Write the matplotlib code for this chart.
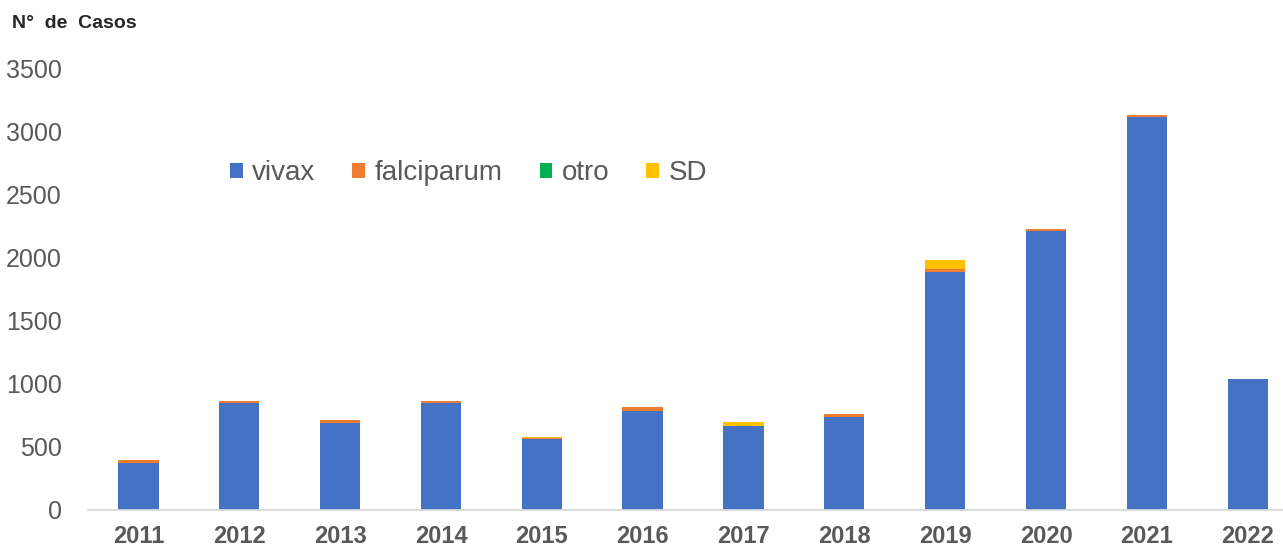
import matplotlib
matplotlib.use("Agg")
import matplotlib.pyplot as plt
import numpy as np
from matplotlib.patches import Patch

plt.rcParams['font.family'] = ['Liberation Sans', 'DejaVu Sans']

years = ['2011', '2012', '2013', '2014', '2015', '2016', '2017', '2018', '2019', '2020', '2021', '2022']
vivax = [372, 845, 688, 845, 560, 783, 659, 736, 1880, 2207, 3112, 1034]
falciparum = [20, 18, 20, 18, 3, 33, 3, 20, 27, 20, 15, 0]
otro = [0, 0, 0, 0, 0, 0, 0, 0, 2, 0, 0, 0]
sd = [0, 0, 0, 0, 15, 0, 35, 0, 65, 0, 0, 0]

series_names = ['vivax', 'falciparum', 'otro', 'SD']
colors = ['#4472C4', '#ED7D31', '#00B050', '#FFC000']
yticks = [0, 500, 1000, 1500, 2000, 2500, 3000, 3500]

W, H = 1283, 546
fig = plt.figure(figsize=(W / 100, H / 100), dpi=100)
ax = fig.add_axes([88 / W, 1 - 509.5 / H, 1 - 88 / W, (509.5 - 68) / H])

x = np.arange(len(years))
bottom = np.zeros(len(years))
for name, vals, c in zip(series_names, [vivax, falciparum, otro, sd], colors):
    ax.bar(x, vals, 0.4, bottom=bottom, color=c, label=name, zorder=2)
    bottom += np.array(vals)

ax.set_xlim(-0.5, 11.35)
ax.set_ylim(0, 3500)
ax.set_yticks(yticks)
ax.set_xticks(x)
ax.set_xticklabels(years, fontsize=17, fontweight='bold', color='#595959')
ax.tick_params(axis='x', length=0, pad=11)
ax.tick_params(axis='y', length=0, pad=19, labelsize=18, labelcolor='#595959')

for s in ['top', 'right', 'left']:
    ax.spines[s].set_visible(False)
ax.spines['bottom'].set_color('#D9D9D9')
ax.spines['bottom'].set_linewidth(1.3)

fig.text(12 / W, 1 - 23 / H, 'N°  de  Casos', fontsize=14, fontweight='bold',
         color='#262626', ha='left', va='center')

handles = [Patch(facecolor=c, edgecolor='none') for c in colors]
leg = fig.legend(handles, series_names, loc='center left',
                 bbox_to_anchor=(230 / W, 1 - 173 / H), bbox_transform=fig.transFigure,
                 ncol=4, frameon=False, fontsize=20, borderpad=0, borderaxespad=0,
                 handlelength=0.45, handleheight=0.45, handletextpad=0.35,
                 columnspacing=1.33)
for t in leg.get_texts():
    t.set_color('#595959')

fig.savefig('out.png', dpi=100)
